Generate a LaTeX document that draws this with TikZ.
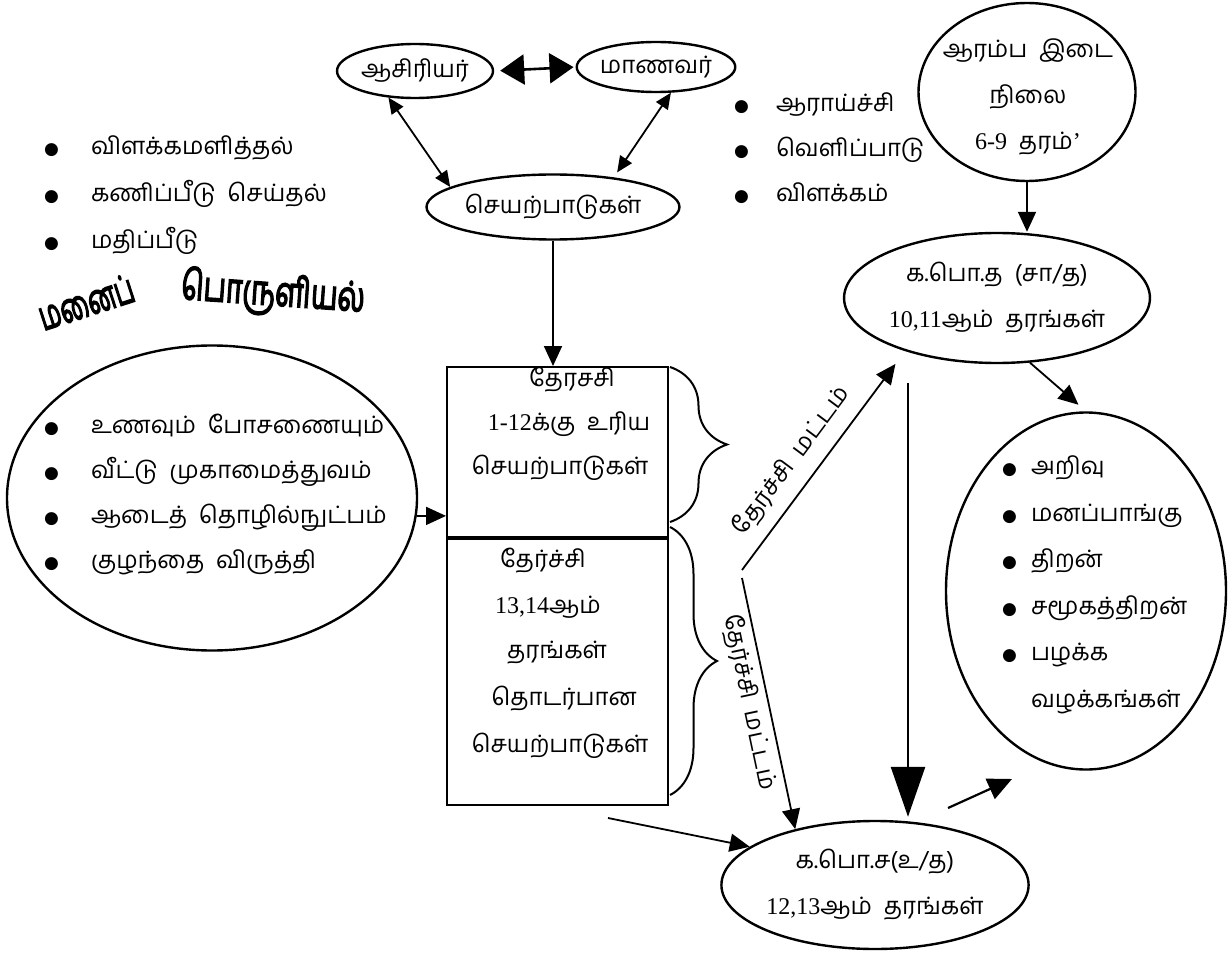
\documentclass[tikz,border=0pt]{standalone}
\usepackage{fontspec}
\setmainfont{Liberation Serif}
\newfontfamily\tam[Script=Tamil]{Hind Madurai}
\newfontfamily\tamb[Script=Tamil,FakeBold=4]{Hind Madurai}
\newfontfamily\latf{Liberation Serif}
\newfontfamily\dej{DejaVu Sans}
\usetikzlibrary{shapes.geometric,arrows.meta,decorations.pathreplacing,calc}
\newcommand\nm[1]{{\latf #1}}
\newcommand\bul{{\dej\fontsize{17}{17}\selectfont ●}}
\begin{document}
\begin{tikzpicture}[x=1pt,y=-1pt,line width=2pt,
  ell/.style={draw,ellipse,inner sep=0pt,line width=2.4pt},
  tx/.style={font=\tam\fontsize{24}{46}\selectfont,align=center,inner sep=0pt},
  lst/.style={font=\tam\fontsize{24}{46}\selectfont,inner sep=0pt,anchor=base west},
  rot/.style={font=\tam\fontsize{24}{28}\selectfont,inner sep=0pt},
  ttl/.style={font=\tamb\fontsize{30}{36}\selectfont,inner sep=0pt},
  boxst/.style={draw,rectangle,inner sep=0pt,line width=2pt},
  arS/.style={{Triangle[length=16pt,width=14pt]}-{Triangle[length=16pt,width=14pt]},line width=1.8pt},
  arD/.style={{Triangle[length=24pt,width=30pt]}-{Triangle[length=24pt,width=30pt]},line width=2.6pt},
  arM/.style={-{Triangle[length=20pt,width=18pt]},line width=1.8pt},
  arB/.style={-{Triangle[length=50pt,width=34pt]},line width=2.6pt},
  brc/.style={decorate,line width=2pt}
]
\useasboundingbox (0,0) rectangle (1231,976);

% top ellipses
\node[ell,tx,minimum width=156pt,minimum height=54pt] (asi) at (415,71) {ஆசிரியர்};
\node[ell,tx,minimum width=157pt,minimum height=50pt] (maa) at (656,67) {மாணவர்};
\node[ell,tx,minimum width=253pt,minimum height=65pt] (sey) at (553,207) {செயற்பாடுகள்};
\draw[arD,shorten <=6pt,shorten >=2pt] (asi.east) -- (maa.west);
\draw[arS] (asi.225) -- (sey.169);
\draw[arS,shorten >=6pt] (maa.-60) -- (sey.26);

% left top list
\foreach \t [count=\i] in {விளக்கமளித்தல், கணிப்பீடு\ \ செய்தல், மதிப்பீடு}
  \node[lst] (la\i) at (43,108+47*\i) {\makebox[47pt][l]{\bul}\t};
% right top list
\foreach \t [count=\i] in {ஆராய்ச்சி, வெளிப்பாடு, விளக்கம்}
  \node[lst] (ra\i) at (733,67+45*\i) {\makebox[42pt][l]{\bul}\t};

% top right circle
\node[ell,minimum width=217pt,minimum height=178pt] (arm) at (1027,92) {};
\node[tx] (armt) at (1028,97) {ஆரம்ப\ \ இடை\\நிலை\\\nm{6-9}\ \ தரம்\nm{’}};
\node[ell,tx,minimum width=293pt,minimum height=130pt] (kpt) at (997,298) {க.பொ.த\ \ (சா/த)\\\nm{10,11}ஆம்\ \ தரங்கள்};
\draw[arM] (arm.south) -- (arm.south |- kpt.north);

% title
\node[ttl,rotate=18] (tt1) at (86,302) {\resizebox{98pt}{29pt}{மனைப்}};
\node[ttl,rotate=-4] (tt2) at (273,294) {\resizebox{184pt}{33pt}{பொருளியல்}};

% left big ellipse
\node[ell,minimum width=410pt,minimum height=305pt] (lef) at (212,498) {};
\foreach \t [count=\i] in {உணவும்\ \ போசணையும், வீட்டு\ \ முகாமைத்துவம், ஆடைத்\ \ தொழில்நுட்பம், குழந்தை\ \ விருத்தி}
  \node[lst] (lb\i) at (43,388+45*\i) {\makebox[47pt][l]{\bul}\t};

% boxes
\node[boxst,minimum width=221pt,minimum height=170pt] (bxa) at (557.5,452) {};
\node[boxst,minimum width=221pt,minimum height=268pt] (bxb) at (557.5,671) {};
\draw[line width=4.5pt] (bxa.south west) -- (bxa.south east);
\node[tx] (ta1) at (572,380) {தேரசசி};
\node[tx] (ta2) at (569,424) {\nm{1-12}க்கு\ \ உரிய};
\node[tx] (ta3) at (560,468) {செயற்பாடுகள்};
\node[tx] (tb1) at (543,561) {தேர்ச்சி};
\node[tx] (tb2) at (548,607) {\nm{13,14}ஆம்};
\node[tx] (tb3) at (557,653) {தரங்கள்};
\node[tx] (tb4) at (564,699) {தொடர்பான};
\node[tx] (tb5) at (560,746) {செயற்பாடுகள்};
\draw[arM] (sey.south) -- (sey.south |- bxa.north);
\draw[arM] (lef.-5) -- (lef.-5 -| bxa.west);

% braces
\draw[brc,decoration={brace,amplitude=57pt}] (670,367) -- (670,522);
\draw[brc,decoration={brace,amplitude=47pt}] (670,527) -- (670,795);

% right ellipse
\node[ell,minimum width=280pt,minimum height=357pt] (rel) at (1086,591) {};
\foreach \t [count=\i] in {அறிவு, மனப்பாங்கு, திறன், சமூகத்திறன், பழக்க}
  \node[lst] (rb\i) at (1001,428+46.5*\i) {\makebox[29pt][l]{\bul}\t};
\node[lst] (rb6) at (1030,707) {வழக்கங்கள்};

% bottom ellipse
\node[ell,tx,minimum width=262pt,minimum height=128pt] (kps) at (875,885) {க.பொ.ச(உ/த)\\\nm{12,13}ஆம்\ \ தரங்கள்};

% connectors
\coordinate (apU) at (742,570);
\coordinate (apL) at (742,578);
\coordinate (vtop) at (908,383);
\coordinate (bst) at (608,818);
\coordinate (kst) at (948,808);
\coordinate (ktp) at (1012,779);
\draw[arM,shorten >=16pt] (apU) -- (kpt.210) node[rot,pos=0.43,sloped,above=12pt] (lu) {தேர்ச்சி\ \ மட்டம்};
\draw[arM] (apL) -- (kps.145) node[rot,pos=0.48,sloped,below=5pt] (ll) {தேர்ச்சி\ \ மட்டம்};
\draw[arB,shorten >=3pt] (vtop) -- (vtop |- kps.north);
\draw[arM,shorten >=10pt] (kpt.-63) -- (rel.north);
\draw[arM] (bst) -- (kps.163);
\draw[arM,line width=2.2pt,-{Triangle[length=24pt,width=22pt]}] (kst) -- (ktp);
\end{tikzpicture}
\end{document}
